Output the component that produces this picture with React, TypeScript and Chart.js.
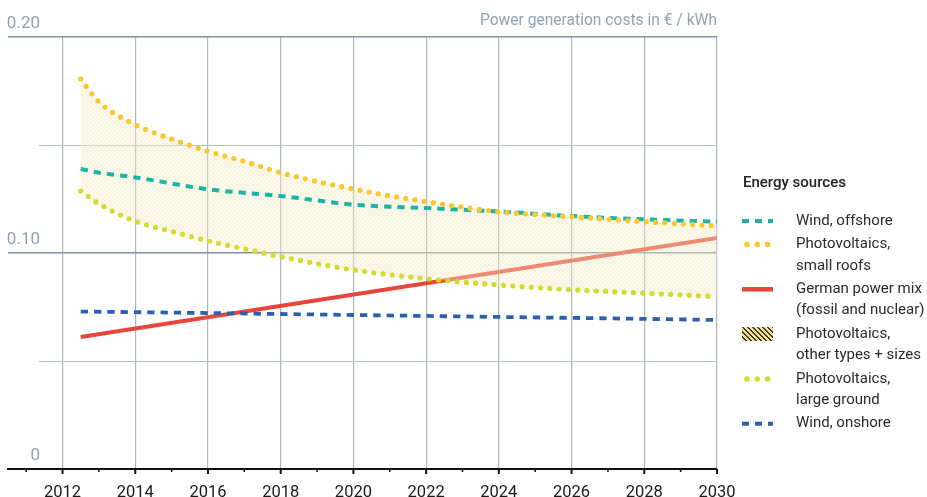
import { useEffect, useRef } from 'react';
import { Chart, registerables } from 'chart.js';

Chart.register(...registerables);

// ---------- data ----------
const yearTicks = [2011, 2012, 2013, 2014, 2015, 2016, 2017, 2018, 2019, 2020, 2021, 2022, 2023, 2024, 2025, 2026, 2027, 2028, 2029, 2030];
const yTickValues = [0, 0.05, 0.1, 0.15, 0.2];
const yTickLabels = ['0', '', '0.10', '', '0.20'];

const axisTitle = 'Power generation costs in € / kWh';
const legendTitle = 'Energy sources';

const pvYears = [2012.5, 2013, 2014, 2015, 2016, 2017, 2018, 2020, 2022, 2024, 2026, 2028, 2030];
const pvSmallRoofs = [0.1806, 0.17, 0.1594, 0.1528, 0.1471, 0.1424, 0.1372, 0.1296, 0.1238, 0.1191, 0.1168, 0.1145, 0.1125];
const pvLargeGround = [0.1287, 0.1228, 0.1147, 0.11, 0.1056, 0.1019, 0.0983, 0.0922, 0.0881, 0.0852, 0.083, 0.0814, 0.0798];

const offshoreYears = [2012.5, 2013, 2014, 2016, 2018, 2020, 2022, 2024, 2026, 2028, 2030];
const windOffshore = [0.1389, 0.1372, 0.135, 0.1295, 0.1264, 0.1224, 0.1208, 0.1192, 0.1171, 0.1156, 0.1145];

const onshoreYears = [2012.5, 2016, 2020, 2024, 2028, 2030];
const windOnshore = [0.0729, 0.0722, 0.0713, 0.0704, 0.0695, 0.069];

const mixYears = [2012.5, 2030];
const germanMix = [0.0611, 0.1069];

const legendLabels = [
  ['Wind, offshore'],
  ['Photovoltaics,', 'small roofs'],
  ['German power mix', '(fossil and nuclear)'],
  ['Photovoltaics,', 'other types + sizes'],
  ['Photovoltaics,', 'large ground'],
  ['Wind, onshore'],
];
const legendKinds = ['dash', 'dots', 'solid', 'hatch', 'dots', 'dash'];

// ---------- styles ----------
const C_OFFSHORE = '#1bb4a7';
const C_SMALL = '#fdc72f';
const C_MIX = '#e8453b';
const C_LARGE = '#d3dc2c';
const C_ONSHORE = '#2c5fac';
const legendColors = [C_OFFSHORE, C_SMALL, C_MIX, '', C_LARGE, C_ONSHORE];
const FONT = 'Roboto, "Noto Sans", sans-serif';
const LABEL_GREY = '#8ea2b7';

function makeHatch(ctx: CanvasRenderingContext2D, size: number, bg: number[], fg: number[], thick: number) {
  const c = document.createElement('canvas');
  c.width = size;
  c.height = size;
  const g = c.getContext('2d')!;
  const img = g.createImageData(size, size);
  for (let y = 0; y < size; y++) {
    for (let x = 0; x < size; x++) {
      const d = ((x - y) % size + size) % size;
      const col = d < thick ? fg : bg;
      const k = (y * size + x) * 4;
      img.data[k] = col[0];
      img.data[k + 1] = col[1];
      img.data[k + 2] = col[2];
      img.data[k + 3] = col[3];
    }
  }
  g.putImageData(img, 0, 0);
  return ctx.createPattern(c, 'repeat')!;
}

const pts = (xs: number[], ys: number[]) => xs.map((x, i) => ({ x, y: ys[i] }));

export default function App() {
  const ref = useRef<HTMLCanvasElement>(null);

  useEffect(() => {
    const canvas = ref.current!;
    const ctx0 = canvas.getContext('2d')!;
    const bandPattern = makeHatch(ctx0, 4, [246, 240, 206, 105], [228, 218, 160, 115], 1);
    const legendPattern = makeHatch(ctx0, 5, [243, 227, 140, 255], [58, 58, 58, 255], 2);

    const sidePlugin = {
      id: 'sideDecor',
      beforeDatasetsDraw(chart: any) {
        const { ctx, chartArea, scales } = chart;
        const y = scales.y;
        ctx.save();
        ctx.strokeStyle = '#b3c0cc';
        ctx.lineWidth = 1;
        yTickValues.forEach((v, i) => {
          if (yTickLabels[i] === '') {
            const py = Math.round(y.getPixelForValue(v)) + 0.5;
            ctx.beginPath();
            ctx.moveTo(39, py);
            ctx.lineTo(chartArea.right, py);
            ctx.stroke();
          }
        });
        ctx.restore();
      },
      afterDraw(chart: any) {
        const { ctx, chartArea, scales } = chart;
        const y = scales.y;
        const x = scales.x;
        ctx.save();
        // y labels
        ctx.font = `17px ${FONT}`;
        ctx.fillStyle = LABEL_GREY;
        ctx.textAlign = 'right';
        ctx.textBaseline = 'alphabetic';
        yTickValues.forEach((v, i) => {
          if (yTickLabels[i]) ctx.fillText(yTickLabels[i], 40, y.getPixelForValue(v) - 9);
        });
        // x tick marks
        ctx.strokeStyle = '#111';
        yearTicks.forEach((yr) => {
          const px = x.getPixelForValue(yr);
          const major = yr % 2 === 0;
          ctx.lineWidth = major ? 2 : 1.5;
          ctx.beginPath();
          ctx.moveTo(px, chartArea.bottom);
          ctx.lineTo(px, chartArea.bottom + (major ? 5 : 3));
          ctx.stroke();
        });
        // legend
        ctx.textAlign = 'left';
        ctx.textBaseline = 'middle';
        ctx.font = `500 15px ${FONT}`;
        ctx.fillStyle = '#222';
        ctx.fillText(legendTitle, 743, 183);
        let ly = 221;
        legendLabels.forEach((lines, i) => {
          const kind = legendKinds[i];
          ctx.save();
          if (kind === 'hatch') {
            ctx.fillStyle = legendPattern;
            ctx.fillRect(742, ly - 7, 31, 14);
          } else {
            ctx.strokeStyle = legendColors[i];
            ctx.beginPath();
            if (kind === 'dots') {
              ctx.lineWidth = 5.5;
              ctx.lineCap = 'round';
              ctx.setLineDash([0, 10.3]);
              ctx.moveTo(747, ly);
              ctx.lineTo(769, ly);
            } else if (kind === 'dash') {
              ctx.lineWidth = 4;
              ctx.lineCap = 'butt';
              ctx.setLineDash([7, 6]);
              ctx.moveTo(742, ly);
              ctx.lineTo(773, ly);
            } else {
              ctx.lineWidth = 4.5;
              ctx.moveTo(742, ly);
              ctx.lineTo(773, ly);
            }
            ctx.stroke();
          }
          ctx.restore();
          ctx.font = `15px ${FONT}`;
          ctx.fillStyle = '#2a2a2a';
          lines.forEach((t, j) => ctx.fillText(t, 796, ly + j * 21.3));
          ly += lines.length * 21.3 + 2.2;
        });
        ctx.restore();
      },
    };

    const dotted = { borderDash: [0, 9.3], borderCapStyle: 'round' as const, borderWidth: 5.2 };
    const dashed = { borderDash: [7.3, 6], borderCapStyle: 'butt' as const, borderWidth: 4 };

    const chart = new Chart(canvas, {
      type: 'line',
      data: {
        datasets: [
          { label: 'Photovoltaics, small roofs', data: pts(pvYears, pvSmallRoofs), borderColor: C_SMALL, ...dotted, fill: false, order: 1, cubicInterpolationMode: 'monotone', pointRadius: 0 },
          { label: 'Photovoltaics, large ground', data: pts(pvYears, pvLargeGround), borderColor: C_LARGE, ...dotted, fill: 0, backgroundColor: bandPattern as any, order: 4, cubicInterpolationMode: 'monotone', pointRadius: 0 },
          { label: 'Wind, offshore', data: pts(offshoreYears, windOffshore), borderColor: C_OFFSHORE, ...dashed, fill: false, order: 2, cubicInterpolationMode: 'monotone', pointRadius: 0 },
          { label: 'Wind, onshore', data: pts(onshoreYears, windOnshore), borderColor: C_ONSHORE, ...dashed, borderWidth: 3.8, fill: false, order: 3, cubicInterpolationMode: 'monotone', pointRadius: 0 },
          { label: 'German power mix', data: pts(mixYears, germanMix), borderColor: C_MIX, borderWidth: 4, fill: false, order: 5, pointRadius: 0 },
        ],
      },
      options: {
        animation: false,
        responsive: true,
        maintainAspectRatio: false,
        events: [],
        layout: { padding: { left: 8, right: 210, top: 8, bottom: 0 } },
        plugins: {
          legend: { display: false },
          tooltip: { enabled: false },
          title: {
            display: true,
            text: axisTitle,
            align: 'end',
            color: LABEL_GREY,
            font: { family: FONT, size: 15.6, weight: 'normal', lineHeight: 1 },
            padding: { top: 5, bottom: 8.4 },
          },
        },
        scales: {
          x: {
            type: 'linear',
            min: 2010.5,
            max: 2030,
            afterBuildTicks: (scale: any) => {
              scale.ticks = yearTicks.map((v) => ({ value: v }));
            },
            afterFit: (scale: any) => {
              scale.height = 28;
            },
            ticks: {
              autoSkip: false,
              maxRotation: 0,
              padding: 15.5,
              color: '#1b1b1b',
              font: { family: FONT, size: 16.5, lineHeight: 1 },
              callback: (v: any) => (Number(v) % 2 === 0 ? String(v) : ''),
            },
            grid: {
              drawTicks: false,
              color: (c: any) => (c.tick && c.tick.value % 2 === 0 ? '#aab7c5' : 'rgba(0,0,0,0)'),
              lineWidth: 1.2,
            },
            border: { display: true, color: '#111', width: 2 },
          },
          y: {
            type: 'linear',
            min: 0,
            max: 0.2,
            afterBuildTicks: (scale: any) => {
              scale.ticks = yTickValues.map((v) => ({ value: v }));
            },
            ticks: { display: false },
            grid: {
              drawTicks: false,
              color: (c: any) => {
                const i = yTickValues.indexOf(c.tick ? c.tick.value : -1);
                return i > 0 && yTickLabels[i] ? '#7f91a5' : 'rgba(0,0,0,0)';
              },
              lineWidth: 1.5,
            },
            border: { display: false },
          },
        },
      },
      plugins: [sidePlugin],
    } as any);

    return () => chart.destroy();
  }, []);

  return (
    <div style={{ position: 'fixed', left: 0, top: 0, width: 927, height: 497 }}>
      <canvas ref={ref} style={{ display: 'block' }} />
    </div>
  );
}
